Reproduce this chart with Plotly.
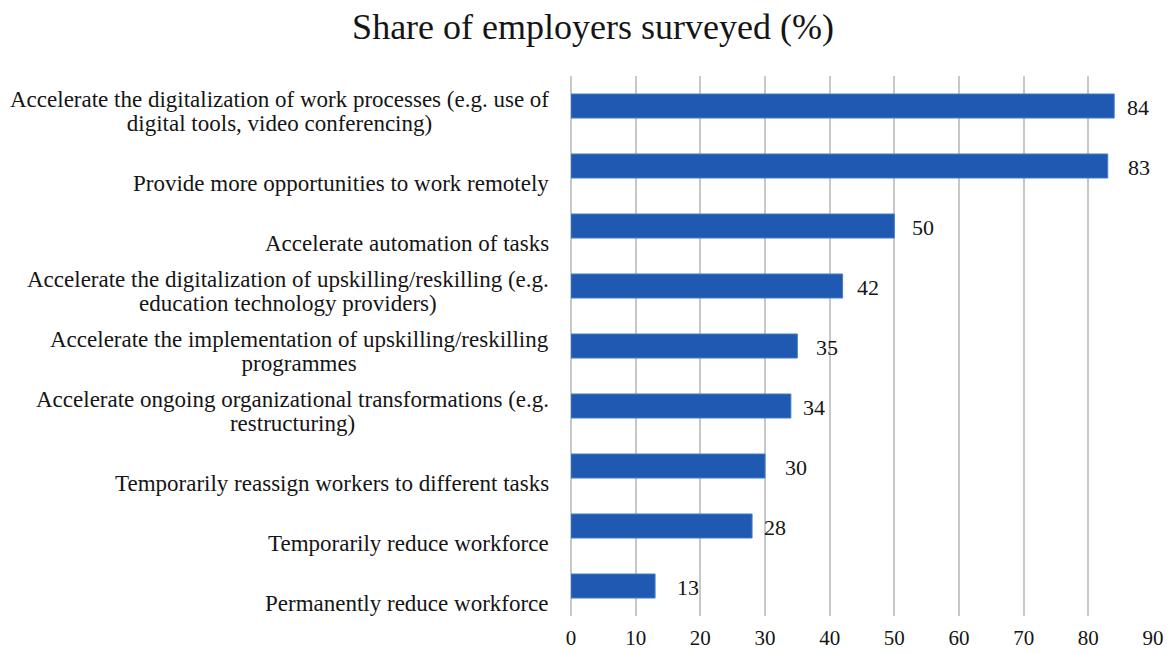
import plotly.graph_objects as go

# Survey responses: planned measures in response to COVID-19
categories = [
    "Accelerate the digitalization of work processes (e.g. use of<br>digital tools, video conferencing)",
    "Provide more opportunities to work remotely",
    "Accelerate automation of tasks",
    "Accelerate the digitalization of upskilling/reskilling (e.g.<br>education technology providers)",
    "Accelerate the implementation of upskilling/reskilling<br>programmes",
    "Accelerate ongoing organizational transformations (e.g.<br>restructuring)",
    "Temporarily reassign workers to different tasks",
    "Temporarily reduce workforce",
    "Permanently reduce workforce",
]
shares = [84, 83, 50, 42, 35, 34, 30, 28, 13]
x_ticks = [0, 10, 20, 30, 40, 50, 60, 70, 80, 90]

# gap between bar end and its value label, in pixels
label_pad = [11, 18, 16, 12, 17, 10, 18, 10, 20]

FONT = "Liberation Serif, Times New Roman, serif"
BAR = "#1f59b1"
GRID = "#c8c8c8"
TEXT = "#151515"


def tight_lines(text, size):
    # wrap every line in a span so glyphs render at `size` while the
    # line pitch follows the (smaller) annotation font size
    return "<br>".join(
        f'<span style="font-size:{size}px">{line}</span>' for line in text.split("<br>")
    )


ypos = list(range(len(categories)))

fig = go.Figure(
    go.Bar(
        x=shares,
        y=ypos,
        orientation="h",
        width=0.4,
        marker=dict(color=BAR, line=dict(color="#3f7ccc", width=1)),
        hoverinfo="skip",
    )
)

annotations = []
for i, (cat, val) in enumerate(zip(categories, shares)):
    # category label, right-aligned, sitting just below the bar
    annotations.append(dict(
        text=tight_lines(cat, 23), xref="paper", x=0, xanchor="right", xshift=-20,
        yref="y", y=i, yanchor="bottom", yshift=-32,
        align="center", showarrow=False,
        font=dict(family=FONT, size=18.5, color=TEXT),
    ))
    # value label
    annotations.append(dict(
        text=str(val), xref="x", x=val, xanchor="left", xshift=label_pad[i],
        yref="y", y=i, yanchor="middle", yshift=-1, showarrow=False,
        font=dict(family=FONT, size=22, color=TEXT),
    ))

fig.update_layout(
    width=1172, height=653,
    margin=dict(l=571, r=19, t=76, b=37),
    paper_bgcolor="white", plot_bgcolor="white",
    showlegend=False,
    title=dict(
        text="Share of employers surveyed (%)",
        x=0.506, xanchor="center", y=0.96, yanchor="middle",
        font=dict(family=FONT, size=36, color=TEXT),
    ),
    xaxis=dict(
        range=[0, 90], tickvals=x_ticks, showgrid=True, automargin=False,
        gridcolor=GRID, gridwidth=2, zeroline=True, zerolinecolor=GRID,
        zerolinewidth=2, showline=False, ticks="", ticklabelstandoff=7,
        tickfont=dict(family=FONT, size=21, color=TEXT),
    ),
    yaxis=dict(
        range=[len(categories) - 0.5, -0.5], showticklabels=False, automargin=False,
        showgrid=False, zeroline=False, showline=False, ticks="",
    ),
    annotations=annotations,
)

fig.write_html("out.html")
